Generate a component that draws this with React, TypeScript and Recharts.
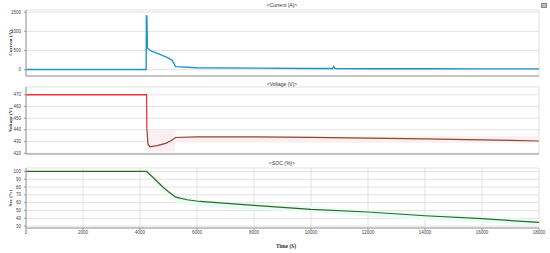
import React from 'react';
import { ComposedChart, Line, Area, XAxis, YAxis, CartesianGrid } from 'recharts';

// scope time axis
const timeTicks = [0, 2000, 4000, 6000, 8000, 10000, 12000, 14000, 16000, 18000];
const currentTicks = [0, 500, 1000, 1500];
const voltageTicks = [420, 430, 440, 450, 460, 470];
const socTicks = [30, 40, 50, 60, 70, 80, 90, 100];

// Current (A)
const currentTime = [0, 4215, 4225, 4240, 4260, 4400, 4700, 5000, 5130, 5250, 6000, 8000, 10000, 10760, 10800, 10840, 12000, 14000, 16000, 18000];
const currentA = [5, 5, 1400, 1400, 560, 480, 400, 300, 240, 80, 50, 40, 30, 30, 85, 30, 25, 22, 20, 20];

// Voltage (V): red part before the step, brown part after
const voltRedTime = [0, 4230, 4240];
const voltRed = [470, 470, 441];
const voltTime = [4240, 4280, 4350, 4600, 4900, 5100, 5250, 6000, 8000, 10000, 12000, 14000, 16000, 18000];
const volt = [441, 428, 425.5, 426.5, 428.5, 431, 433.5, 434, 434, 433.6, 433, 432.3, 431.5, 430.5];
const voltBandTime = [4240, 5200, 5260, 18000];
const voltBandLow = [421.5, 421.5, 429, 429];
const voltBandHigh = [440, 440, 434.5, 434.5];

// SOC (%)
const socTime = [0, 4230, 4500, 4800, 5000, 5250, 5650, 6100, 8000, 10000, 12000, 14000, 16000, 18000];
const soc = [100, 100, 91, 80, 74, 67, 63.7, 61.5, 56.4, 51.3, 48, 43.2, 39.4, 34.6];
const socBandTime = [4400, 5000, 5300, 6100, 8000, 10000, 12000, 14000, 16000, 18000];
const socBandLow = [90, 68, 60, 55, 51, 48, 42, 38, 34, 30.5];
const socBandHigh = [95, 76, 69, 63.7, 59, 55, 50.5, 46.5, 43, 38.5];

const zip = (t: number[], v: number[]) => t.map((x, i) => ({ t: x, v: v[i] }));
const zipBand = (t: number[], lo: number[], hi: number[]) => t.map((x, i) => ({ t: x, band: [lo[i], hi[i]] }));

const tickStyle = { fontSize: 4.5, fill: '#444', fontFamily: 'Liberation Sans' };
const frame = '#9a9a9a';
const grid = '#d9d9d9';

function Panel({ top, height, marginTop, xHeight, yDomain, yTicks, showTime, children }: any) {
  return (
    <div style={{ position: 'absolute', left: 0, top }}>
      <ComposedChart width={550} height={height} margin={{ top: marginTop, right: 11, bottom: 0, left: 0 }}>
        <CartesianGrid stroke={grid} strokeWidth={0.8} />
        <XAxis
          dataKey="t"
          type="number"
          domain={[0, 18000]}
          ticks={timeTicks}
          interval={0}
          height={xHeight}
          stroke={frame}
          tickSize={2}
          tick={showTime ? { ...tickStyle, dy: -1 } : false}
          allowDataOverflow
        />
        <XAxis xAxisId="top" orientation="top" type="number" domain={[0, 18000]} ticks={timeTicks} interval={0} height={0} tick={false} tickSize={2} stroke={frame} />
        <YAxis
          type="number"
          domain={yDomain}
          ticks={yTicks}
          interval={0}
          width={26}
          stroke={frame}
          tickSize={2}
          tick={{ ...tickStyle, dx: -1 }}
          allowDataOverflow
        />
        <YAxis yAxisId="right" orientation="right" type="number" domain={yDomain} ticks={yTicks} interval={0} width={0} tick={false} tickSize={2} stroke={frame} />
        {children}
      </ComposedChart>
    </div>
  );
}

const titleStyle: React.CSSProperties = {
  position: 'absolute', left: 282, transform: 'translateX(-50%)', fontSize: 5, color: '#333',
  fontFamily: 'Liberation Sans', whiteSpace: 'nowrap', lineHeight: 1,
};
const yLabelStyle = (cy: number): React.CSSProperties => ({
  position: 'absolute', left: 10, top: cy, transform: 'translate(-50%, -50%) rotate(-90deg)', fontSize: 5,
  fontWeight: 'bold', color: '#333', fontFamily: 'Liberation Serif', whiteSpace: 'nowrap', lineHeight: 1,
});

export default function App() {
  return (
    <div style={{ position: 'fixed', left: 0, top: 0, width: 550, height: 253, background: '#fff', overflow: 'hidden' }}>
      <Panel top={0} height={78} marginTop={10} xHeight={2} yDomain={[-165, 1555]} yTicks={currentTicks}>
        <Line data={zip(currentTime, currentA)} dataKey="v" type="linear" stroke="#1f93c6" strokeWidth={1.4} dot={false} isAnimationActive={false} />
      </Panel>
      <Panel top={80} height={76} marginTop={7} xHeight={2} yDomain={[419.4, 476.6]} yTicks={voltageTicks}>
        <Area data={zipBand(voltBandTime, voltBandLow, voltBandHigh)} dataKey="band" type="linear" stroke="none" fill="#fdeef3" fillOpacity={1} isAnimationActive={false} />
        <Line data={zip(voltRedTime, voltRed)} dataKey="v" type="linear" stroke="#f2313b" strokeWidth={1.3} dot={false} isAnimationActive={false} />
        <Line data={zip(voltTime, volt)} dataKey="v" type="linear" stroke="#8b4a26" strokeWidth={1.2} dot={false} isAnimationActive={false} />
      </Panel>
      <Panel top={156} height={97} marginTop={12} xHeight={25} yDomain={[27.5, 104.4]} yTicks={socTicks} showTime>
        <Area data={zipBand(socBandTime, socBandLow, socBandHigh)} dataKey="band" type="linear" stroke="none" fill="#e8fbf9" fillOpacity={1} isAnimationActive={false} />
        <Line data={zip(socTime, soc)} dataKey="v" type="linear" stroke="#2e6a1e" strokeWidth={1.2} dot={false} isAnimationActive={false} />
      </Panel>

      <div style={{ ...titleStyle, top: 3 }}>&lt;Current (A)&gt;</div>
      <div style={{ ...titleStyle, top: 82 }}>&lt;Voltage (V)&gt;</div>
      <div style={{ ...titleStyle, top: 161 }}>&lt;SOC (%)&gt;</div>
      <div style={yLabelStyle(43)}>Current (A)</div>
      <div style={yLabelStyle(120)}>Voltage (V)</div>
      <div style={yLabelStyle(198)}>Soc (%)</div>
      <div style={{ position: 'absolute', left: 286, top: 247, transform: 'translate(-50%, -50%)', fontSize: 5.5, fontWeight: 'bold', color: '#333', fontFamily: 'Liberation Serif', whiteSpace: 'nowrap', lineHeight: 1 }}>
        Time (S)
      </div>
      <div style={{ position: 'absolute', left: 541, top: 3, width: 4, height: 3, background: '#bbb', border: '0.5px solid #888' }} />
    </div>
  );
}
